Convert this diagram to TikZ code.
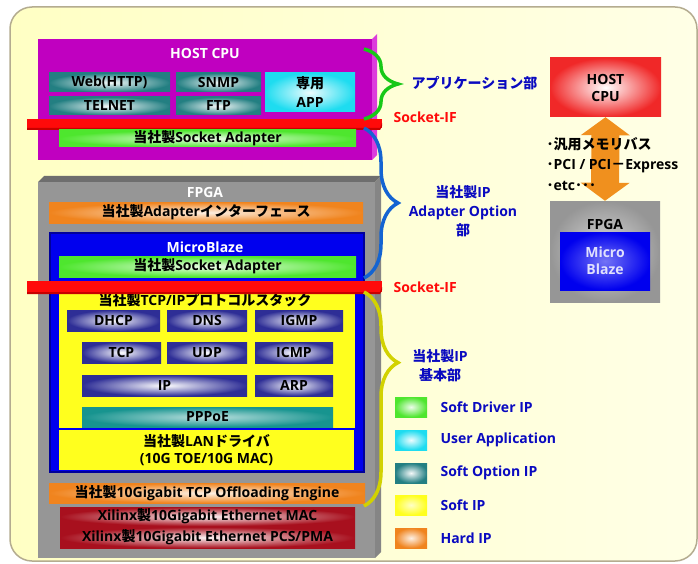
\documentclass[tikz,border=0pt]{standalone}
\usepackage{fontspec}
\setmainfont{Open Sans}
\newfontfamily\jp{Noto Sans CJK JP}
\usetikzlibrary{arrows.meta, decorations.pathreplacing}

\definecolor{bgleft}{HTML}{FFFFC4}
\definecolor{bgright}{HTML}{FFFFE6}
\definecolor{bgline}{HTML}{B4AC90}
\definecolor{hostmag}{HTML}{C000C0}
\definecolor{hostedge}{HTML}{DC3CDC}
\definecolor{drvgreen}{HTML}{4EE62E}
\definecolor{appteal}{HTML}{237F82}
\definecolor{usrcyan}{HTML}{1EDCF0}
\definecolor{protoblue}{HTML}{2E2E96}
\definecolor{pppteal}{HTML}{17948F}
\definecolor{hardorange}{HTML}{F0841E}
\definecolor{softyellow}{HTML}{FFFF1E}
\definecolor{xilred}{HTML}{A8101E}
\definecolor{fpgagrey}{HTML}{969696}
\definecolor{fpgatop}{HTML}{6E6E6E}
\definecolor{fpgaside}{HTML}{858585}
\definecolor{mbblue}{HTML}{0000EE}
\definecolor{mbedge}{HTML}{00009A}
\definecolor{sifred}{HTML}{FF0A0A}
\definecolor{sifdark}{HTML}{C80000}
\definecolor{lblblue}{HTML}{0A0AC0}
\definecolor{brgreen}{HTML}{18C818}
\definecolor{brblue}{HTML}{1464D2}
\definecolor{bryellow}{HTML}{D2D200}
\definecolor{cpured}{HTML}{F02828}
\definecolor{busorange}{HTML}{F0901E}

\tikzset{
  blk/.style={rectangle, inner sep=0pt, align=center, font=\bfseries\fontsize{14}{17}\selectfont},
  ttl/.style={text=white, font=\bfseries\fontsize{14}{17}\selectfont},
  drv/.style={blk, inner color=drvgreen!10, outer color=drvgreen},
  usr/.style={blk, inner color=usrcyan!8, outer color=usrcyan},
  opt/.style={blk, inner color=appteal!5, outer color=appteal},
  proto/.style={blk, inner color=white, outer color=protoblue},
  ppp/.style={blk, inner color=pppteal!30, outer color=pppteal},
  soft/.style={blk, inner color=softyellow!25, outer color=softyellow},
  ysolid/.style={blk, fill=softyellow},
  hard/.style={blk, inner color=hardorange!12, outer color=hardorange},
  xil/.style={blk, inner color=xilred!5, outer color=xilred},
  sif/.style={rectangle, inner sep=0pt, fill=sifred, minimum width=355pt},
  brc/.style={decorate, decoration={brace, amplitude=34pt, aspect=#1}, line width=3.5pt},
  lbl/.style={text=lblblue, align=center, font=\bfseries\fontsize{14}{19}\selectfont},
  sifl/.style={text=sifred, font=\bfseries\fontsize{14}{17}\selectfont},
  leg/.style={rectangle, inner sep=0pt, minimum width=32pt, minimum height=20pt},
  legt/.style={text=lblblue, anchor=west, font=\bfseries\fontsize{14}{17}\selectfont}
}

\begin{document}
\begin{tikzpicture}[x=1pt, y=-1pt]
  \useasboundingbox (0,0) rectangle (698,564);

  % Background panel
  \draw[bgline, line width=1.5pt, rounded corners=22pt, left color=bgleft, right color=bgright]
    (10,7) rectangle (697,561);

  % HOST CPU
  \fill[hostedge] (372,39) -- (377,34) -- (377,155) -- (372,160) -- cycle;
  \node[rectangle, fill=hostmag, minimum width=334pt, minimum height=121pt] (host) at (205,99.5) {};
  \node[ttl] (hostttl) at (205,53) {HOST CPU};
  \node[opt, minimum width=121pt, minimum height=19pt] (web) at (109.5,82.5) {Web(HTTP)};
  \node[opt, minimum width=85pt, minimum height=19pt] (snmp) at (218.5,82.5) {SNMP};
  \node[opt, minimum width=121pt, minimum height=18pt] (telnet) at (109.5,106) {TELNET};
  \node[opt, minimum width=85pt, minimum height=18pt] (ftp) at (218.5,106) {FTP};
  \node[usr, minimum width=90pt, minimum height=39pt] (app) at (310,92.5) {{\jp 専用}\\[2pt]APP};
  \node[sif, minimum height=9pt] (sif1) at (204.5,123.5) {};
  \fill[sifdark] (27,128) -- (380,128) -- (382,123) -- (382,126) -- (380,130) -- (27,130) -- cycle;
  \node[drv, minimum width=297pt, minimum height=17pt] (sock1) at (207.5,138.5) {{\jp 当社製}Socket Adapter};

  % FPGA
  \fill[fpgatop] (38,182) -- (44,176) -- (381,176) -- (375,182) -- cycle;
  \fill[fpgaside] (375,182) -- (381,176) -- (381,552) -- (375,558) -- cycle;
  \node[rectangle, fill=fpgagrey, minimum width=337pt, minimum height=376pt] (fpga) at (206.5,370) {};
  \node[ttl] (fpgattl) at (205,192) {FPGA};
  \node[hard, minimum width=314pt, minimum height=21pt] (adif) at (206,212.5) {{\jp 当社製}Adapter{\jp インターフェース}};

  % MicroBlaze
  \node[rectangle, fill=mbblue, draw=mbedge, line width=2pt, minimum width=314pt, minimum height=239pt] (mb) at (207,352.5) {};
  \node[ttl] (mbttl) at (205,247) {MicroBlaze};
  \node[drv, minimum width=297pt, minimum height=21pt] (sock2) at (207.5,266.5) {{\jp 当社製}Socket Adapter};

  % TCP/IP stack
  \node[ysolid, minimum width=296pt, minimum height=136pt] (stack) at (207,360) {};
  \node[blk] (stackttl) at (205,300) {{\jp 当社製}TCP/IP{\jp プロトコルスタック}};
  \node[sif, minimum height=11pt] (sif2) at (204.5,286.5) {};
  \fill[sifdark] (27,292) -- (380,292) -- (382,287) -- (382,290) -- (380,294) -- (27,294) -- cycle;
  \node[proto, minimum width=93pt, minimum height=21pt] (dhcp) at (113.5,320.5) {DHCP};
  \node[proto, minimum width=80pt, minimum height=21pt] (dns) at (207,320.5) {DNS};
  \node[proto, minimum width=88pt, minimum height=21pt] (igmp) at (299,320.5) {IGMP};
  \node[proto, minimum width=79pt, minimum height=21pt] (tcp) at (121.5,352.5) {TCP};
  \node[proto, minimum width=80pt, minimum height=21pt] (udp) at (207,352.5) {UDP};
  \node[proto, minimum width=78pt, minimum height=21pt] (icmp) at (294,352.5) {ICMP};
  \node[proto, minimum width=165pt, minimum height=21pt] (ip) at (164.5,385.5) {IP};
  \node[proto, minimum width=78pt, minimum height=21pt] (arp) at (294,385.5) {ARP};
  \node[ppp, minimum width=251pt, minimum height=20pt] (pppoe) at (207.5,417) {PPPoE};
  \node[ysolid, minimum width=295pt, minimum height=40pt] (lan) at (206.5,450)
    {{\jp 当社製}LAN{\jp ドライバ}\\(10G TOE/10G MAC)};

  % Hard IP
  \node[hard, minimum width=316pt, minimum height=20pt] (toe) at (207,493) {{\jp 当社製}10Gigabit TCP Offloading Engine};
  \node[xil, minimum width=295pt, minimum height=19pt] (mac) at (207.5,516.5) {Xilinx{\jp 製}10Gigabit Ethernet MAC};
  \node[xil, minimum width=295pt, minimum height=21pt] (pcs) at (207.5,537.5) {Xilinx{\jp 製}10Gigabit Ethernet PCS/PMA};

  % Braces and labels
  \coordinate (g1) at (364,49);  \coordinate (g2) at (364,119);
  \coordinate (b1) at (364,128); \coordinate (b2) at (364,278);
  \coordinate (y1) at (364,292); \coordinate (y2) at (364,506);
  \draw[brgreen, brc=0.5] (g1) -- (g2);
  \draw[brblue, brc=0.5] (b1) -- (b2);
  \draw[bryellow, brc=0.33] (y1) -- (y2);
  \node[lbl, anchor=west] (applbl) at (408,83) {\jp アプリケーション部};
  \node[lbl] (optlbl) at (463,211) {{\jp 当社製}IP\\Adapter Option\\{\jp 部}};
  \node[lbl] (baselbl) at (440,366) {{\jp 当社製}IP\\{\jp 基本部}};
  \node[sifl, anchor=west] (sifl1) at (390,117) {Socket-IF};
  \node[sifl, anchor=west] (sifl2) at (390,287) {Socket-IF};

  % Legend
  \node[drv, leg] (lgdrv) at (411,407) {};
  \node[usr, leg] (lgusr) at (411,440) {};
  \node[opt, leg] (lgopt) at (411,473) {};
  \node[soft, leg] (lgsoft) at (411,505) {};
  \node[hard, leg] (lghard) at (411,538) {};
  \node[legt] (ltdrv) at (437,407) {Soft Driver IP};
  \node[legt] (ltusr) at (437,440) {User Application};
  \node[legt] (ltopt) at (437,473) {Soft Option IP};
  \node[legt] (ltsoft) at (437,505) {Soft IP};
  \node[legt] (lthard) at (437,538) {Hard IP};

  % Host / FPGA overview
  \node[blk, inner color=white, outer color=cpured, minimum width=111pt, minimum height=59pt] (hcpu) at (605.5,87.5) {HOST\\CPU};
  \node[rectangle, inner color=fpgagrey!35, outer color=fpgagrey, minimum width=110pt, minimum height=101pt] (fpgar) at (605,251.5) {};
  \node[blk] (fpgarttl) at (605,224) {FPGA};
  \node[blk, text=mbblue!12, inner color=mbblue!55, outer color=mbblue, minimum width=90pt, minimum height=58pt] (mbr) at (605,261) {Micro\\Blaze};
  \draw[busorange, line width=28pt, {Triangle[width=48pt,length=18pt]}-{Triangle[width=48pt,length=18pt]}]
    (hcpu.south) -- (fpgar.north);
  \node[anchor=west, align=left, font=\bfseries\fontsize{14}{20.5}\selectfont] (bus) at (543,164)
    {{\jp ･汎用メモリバス}\\{\jp ･}PCI / PCI{\jp －}Express\\{\jp ･}etc{\jp ･･･}};
\end{tikzpicture}
\end{document}
